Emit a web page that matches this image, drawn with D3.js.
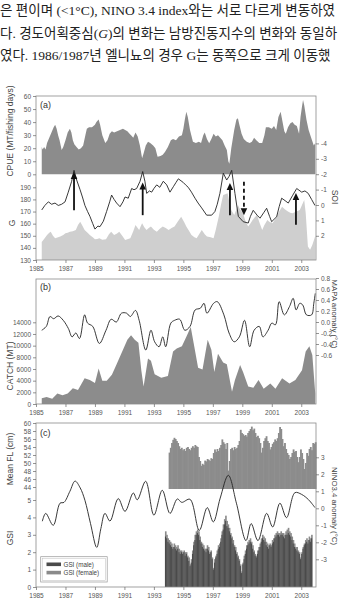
<!DOCTYPE html>
<html><head><meta charset="utf-8">
<script src="https://cdn.jsdelivr.net/npm/d3@7"></script>
<style>
html,body{margin:0;padding:0;background:#fff;overflow:hidden;}
svg{display:block;}
</style></head>
<body>
<svg id="c" width="340" height="608"></svg>
<script>
// ---------- intro text ----------
const introLine1 = "은 편이며 (<1°C), NINO 3.4 index와는 서로 다르게 변동하였";
const introLine2Parts = ["다. 경도어획중심(", "G", ")의 변화는 남방진동지수의 변화와 동일하"];
const introLine3 = "였다. 1986/1987년 엘니뇨의 경우 G는 동쪽으로 크게 이동했";

// ---------- axis ticks ----------
const yearTicks = [1985, 1987, 1989, 1991, 1993, 1995, 1997, 1999, 2001, 2003];
const cpueTicks = [0, 10, 20, 30, 40, 50, 60];
const gTicks = [130, 140, 150, 160, 170, 180, 190];
const soiTicks = [-4, -3, -2, -1, 0, 1, 2];
const catchTicks = [0, 2000, 4000, 6000, 8000, 10000, 12000, 14000];
const mapaTicks = [0.8, 0.6, 0.4, 0.2, 0.0, -0.2, -0.4, -0.6];
const flTicks = [44, 46, 48, 50, 52, 54, 56, 58, 60];
const gsiTicks = [0, 1, 2, 3, 4, 5];
const ninoTicks = [-3, -2, -1, 0, 1, 2, 3];
const legendLabels = ["GSI (male)", "GSI (female)"];

// ---------- panel (a) ----------
const cpueYears = [1985.39,1985.45,1985.55,1985.65,1985.75,1985.9,1986.05,1986.2,1986.3,1986.4,1986.5,1986.6,1986.74,1986.85,1987.0,1987.15,1987.3,1987.4,1987.5,1987.6,1987.75,1987.9,1988.05,1988.2,1988.35,1988.45,1988.6,1988.8,1989.0,1989.1,1989.25,1989.35,1989.5,1989.7,1989.85,1990.0,1990.15,1990.3,1990.5,1990.7,1990.9,1991.05,1991.2,1991.35,1991.45,1991.6,1991.75,1991.9,1992.05,1992.2,1992.3,1992.45,1992.6,1992.75,1992.95,1993.1,1993.25,1993.45,1993.6,1993.75,1993.95,1994.15,1994.3,1994.5,1994.7,1994.9,1995.0,1995.1,1995.2,1995.3,1995.45,1995.65,1995.85,1996.05,1996.2,1996.35,1996.45,1996.6,1996.75,1996.9,1997.05,1997.2,1997.35,1997.5,1997.65,1997.8,1997.95,1998.05,1998.12,1998.25,1998.45,1998.6,1998.7,1998.8,1998.95,1999.1,1999.3,1999.5,1999.65,1999.8,1999.95,2000.15,2000.35,2000.5,2000.6,2000.8,2001.0,2001.15,2001.3,2001.45,2001.6,2001.7,2001.85,2001.95,2002.1,2002.25,2002.4,2002.55,2002.7,2002.85,2002.95,2003.05,2003.12,2003.2,2003.35,2003.5,2003.7,2003.85,2003.95];
const cpueValues = [21,19,21,19,24,28,32,36,38,35,30,26,18.6,21,26,32,35,32,26,23,21,19,20,22,30,35,36,36,38,40,42,38,30,24,26,31,33,32,33,34,35,34,33,31,30,28,32,29,22,12.3,16,22,25,24,22,20,13.5,14,15,17,21,26,27,26,29,30,35,42,48,44,34,25,24,25,24,30,32,27,23.8,27,31,29,30,28,26,22,18.6,10,8,20,34,42,43,38,31,27,25,24,25,28,26,24,24,30,36,36,35,37,34,44,48,42,33,31,36,39,40,38,37,31,44,52,57,53,42,34,27,22,24];

const soiYears = [1985.39,1985.55,1985.75,1985.9,1986.0,1986.15,1986.3,1986.5,1986.65,1986.85,1987.0,1987.15,1987.3,1987.5,1987.7,1987.85,1988.0,1988.15,1988.3,1988.5,1988.65,1988.85,1989.0,1989.15,1989.3,1989.5,1989.75,1989.95,1990.1,1990.3,1990.5,1990.65,1990.85,1991.05,1991.25,1991.4,1991.6,1991.75,1991.9,1992.0,1992.1,1992.2,1992.35,1992.5,1992.65,1992.8,1993.0,1993.2,1993.4,1993.6,1993.8,1994.0,1994.2,1994.4,1994.6,1994.85,1995.05,1995.2,1995.4,1995.55,1995.75,1995.9,1996.1,1996.25,1996.45,1996.6,1996.85,1997.05,1997.2,1997.4,1997.55,1997.7,1997.85,1998.0,1998.1,1998.25,1998.45,1998.6,1998.7,1998.85,1999.05,1999.2,1999.4,1999.55,1999.7,1999.85,2000.0,2000.15,2000.35,2000.5,2000.7,2000.85,2001.05,2001.25,2001.5,2001.7,2001.9,2002.1,2002.25,2002.4,2002.6,2002.9,2003.05,2003.2,2003.3,2003.45,2003.6,2003.75,2003.9,2003.95];
const soiValues = [2.4,2.2,1.95,1.8,1.73,2.0,2.16,2.1,2.05,1.95,1.84,1.8,1.73,1.7,1.62,1.3,1.08,1.35,1.62,1.8,1.95,2.1,2.23,2.2,2.16,2.25,2.23,1.9,1.73,1.95,1.85,1.73,2.0,2.27,2.2,2.16,1.7,1.3,1.5,1.62,1.4,1.19,1.45,1.62,1.5,1.4,1.6,1.73,1.55,1.4,1.5,1.62,1.5,1.4,1.1,0.76,1.1,1.4,1.7,1.95,2.1,2.16,1.85,1.62,1.9,2.05,2.1,2.16,1.6,0.76,0.0,-0.65,-0.7,-0.76,-0.3,0.32,0.65,0.3,0.0,0.3,0.54,1.0,1.4,1.2,0.97,0.8,0.65,1.1,1.62,1.3,0.97,1.1,1.19,0.9,0.43,0.11,0.3,0.43,0.5,0.54,0.45,0.32,0.0,-0.32,0.5,2.7,2.9,2.6,2.16,2.0];

const gYears = [1985.39,1985.6,1985.84,1986.06,1986.29,1986.51,1986.74,1986.97,1987.19,1987.42,1987.58,1987.76,1987.99,1988.15,1988.32,1988.5,1988.66,1988.85,1989.0,1989.2,1989.34,1989.57,1989.79,1990.0,1990.13,1990.3,1990.47,1990.7,1990.9,1991.04,1991.26,1991.49,1991.65,1991.83,1992.06,1992.24,1992.39,1992.51,1992.7,1992.85,1993.0,1993.19,1993.4,1993.64,1993.87,1994.09,1994.32,1994.5,1994.66,1994.99,1995.15,1995.33,1995.55,1995.79,1996.0,1996.24,1996.58,1996.92,1997.14,1997.3,1997.48,1997.71,1997.94,1998.1,1998.28,1998.5,1998.73,1999.06,1999.4,1999.55,1999.74,2000.0,2000.2,2000.45,2000.65,2000.85,2000.99,2001.33,2001.5,2001.67,2001.9,2002.12,2002.4,2002.69,2003.03,2003.25,2003.47,2003.7,2003.93];
const gValues = [171.3,175,178,176,177,175,176,178,186,195,204,196,188,182,175,170,166,160,155.5,158,157.5,162,170,178,183.6,180,177,174,178,182,181,189,188,189,195,203,195,185,187,186,189,192,190,195,192,186,190.5,194,197,194,192,190,186,181,177,173,167,167,170,176,185,201.6,196,199,204,185,166,161.6,160.5,166,171,167,164.5,169,172.7,166,161.6,165.7,174,181,179,177,183,189,186,187,185,180,175];

const arrowYears = [1987.58, 1992.24, 1998.16, 2002.64];
const arrowFromG = [171, 167, 167, 159];
const arrowToG = [202.6, 194, 193.5, 185.3];
const dashArrowYear = 1999.11;
const dashArrowFromG = 194.6;
const dashArrowToG = 167;

// ---------- panel (b) ----------
const catchYears = [1985.39,1985.72,1986.1,1986.45,1986.8,1987.15,1987.5,1987.85,1988.3,1988.65,1989.0,1989.25,1989.5,1989.8,1990.15,1990.5,1990.85,1991.2,1991.45,1991.7,1991.95,1992.15,1992.3,1992.6,1992.8,1993.05,1993.5,1993.95,1994.3,1994.55,1994.9,1995.25,1995.5,1995.7,1996.0,1996.3,1996.65,1996.9,1997.1,1997.35,1997.7,1997.95,1998.3,1998.5,1998.85,1999.05,1999.4,1999.75,2000.1,2000.45,2000.9,2001.25,2001.7,2002.2,2002.6,2003.05,2003.3,2003.55,2003.75,2003.95];
const catchValues = [1000,1200,900,1800,1500,1800,2700,2400,4400,4100,3600,6100,4000,4000,5000,7000,9000,11000,11800,11000,10500,5700,3000,7800,7400,5100,4500,4800,9000,9500,9900,11800,13200,10400,6200,5900,11000,9300,5500,8600,7100,6800,2100,4100,6700,5500,3000,2800,4100,2600,3500,2600,4400,3500,4100,5800,9000,9900,8400,1800];

const mapaYears = [1985.39,1985.7,1985.95,1986.2,1986.5,1986.85,1987.2,1987.45,1987.7,1987.95,1988.3,1988.5,1988.85,1989.3,1989.75,1990.1,1990.45,1990.8,1991.15,1991.4,1991.75,1992.0,1992.45,1992.8,1993.05,1993.35,1993.6,1993.8,1994.15,1994.4,1994.75,1995.1,1995.45,1995.8,1996.15,1996.4,1996.6,1997.05,1997.3,1997.75,1998.1,1998.45,1998.8,1999.15,1999.5,1999.8,2000.15,2000.4,2000.75,2001.0,2001.25,2001.5,2001.85,2002.2,2002.45,2002.65,2002.9,2003.1,2003.35,2003.7,2003.85,2003.95];
const mapaValues = [-0.15,-0.08,0.1,0.06,0.11,0.03,-0.12,-0.27,-0.2,-0.3,0.13,-0.02,-0.08,-0.39,-0.15,0.05,0,0.16,0.16,0.1,0.21,0.03,-0.51,-0.15,-0.36,-0.45,-0.27,-0.45,-0.02,0.03,0.05,-0.15,-0.08,0.22,0.25,0.34,0.16,0.34,0.37,0.13,-0.2,-0.36,-0.27,0.03,-0.45,-0.15,-0.08,-0.27,-0.15,-0.02,-0.05,0.37,0.13,0.28,0.43,0.22,0.34,0.31,0.13,0.13,0.34,0.52];

// ---------- panel (c) ----------
const flStart = 1994.0; // monthly, Jan 1994 - Dec 2003
const flValues = [52.6,53.8,55,55.8,56.3,56,55.5,55,54.2,53.5,53.8,53.2,
53.5,53,53.8,54,53.5,53.2,53.8,54.2,53.8,54.5,54.2,54,
51.5,50.5,49.3,49.8,49.5,50.6,50.4,51,50.8,50.5,51.2,51,
52.5,53.4,52.8,53.5,53,53.8,54.5,55.9,55.2,54.8,53.5,55,
48.1,50.5,53.5,53.8,53.2,54,53.5,53.8,54.5,55.5,58.3,57.5,
57.2,56.8,57,56.6,57.5,58,58.5,59.1,58.2,58.6,57.5,56.5,
56.8,56.2,55,52.6,53.8,55.5,56.2,56.7,55.5,55,53.4,54,
54.8,55.2,55.9,55.5,56.2,57.5,59,58.5,56,54.2,55,53.5,
52.5,52,51,51.5,52.5,53.4,52.8,53,51.5,50.2,51.5,53.4,
52.5,51,48.5,50,52.5,51.8,53.5,54,53.2,55,54.8,55.2];

const gsiStart = 1993.75; // monthly, Oct 1993 - Sep 2003
const gsiMale = [2.9,2.8,2.6,
2.5,2.4,2.3,2.2,2.3,2.2,2.1,2.2,2.0,1.9,2.0,1.9,
2.0,1.8,1.9,1.7,1.5,1.2,1.4,1.9,2.4,2.7,3.0,3.1,
3.0,2.7,2.5,2.3,2.2,2.1,2.0,2.2,2.1,1.9,2.0,1.6,
1.0,1.4,1.7,1.9,2.2,2.3,2.6,3.0,3.3,3.6,3.8,3.5,
3.4,3.2,3.0,2.8,2.5,2.3,2.1,1.9,1.7,1.5,1.2,0.8,
1.3,1.6,1.9,2.2,2.4,2.5,2.6,2.5,2.2,2.0,1.8,1.7,
1.9,2.1,2.3,2.6,2.8,2.7,2.6,2.4,2.3,2.2,2.4,2.3,
2.5,2.6,2.8,2.9,3.0,3.0,2.9,3.0,3.0,2.9,2.8,3.0,
3.0,3.1,3.0,2.9,2.7,2.5,2.3,2.2,2.1,2.0,1.9,1.6,
1.9,2.2,2.4,2.5,2.6,2.5,2.7,2.6,2.8];
const gsiFemale = [3.2,3.0,2.8,
2.7,2.6,2.5,2.3,2.5,2.4,2.3,2.4,2.2,2.1,2.1,2.0,
2.1,2.0,2.0,1.8,1.7,1.3,1.6,2.1,2.6,3.0,3.2,3.3,
3.2,2.9,2.6,2.5,2.4,2.2,2.2,2.4,2.3,2.0,2.1,1.7,
1.1,1.6,1.8,2.1,2.4,2.5,2.8,3.2,3.6,3.9,4.1,3.8,
3.6,3.4,3.1,2.9,2.7,2.4,2.3,2.0,1.8,1.6,1.3,0.9,
1.4,1.8,2.1,2.4,2.6,2.7,2.8,2.6,2.4,2.1,1.9,1.8,
2.1,2.3,2.5,2.8,3.0,2.9,2.8,2.6,2.5,2.4,2.5,2.4,
2.7,2.8,3.0,3.1,3.2,3.1,3.1,3.2,3.1,3.1,3.0,3.2,
3.3,3.4,3.2,3.1,2.9,2.7,2.5,2.3,2.3,2.1,2.0,1.7,
2.0,2.3,2.5,2.7,2.8,2.7,2.9,2.8,3.0];

const ninoYears = [1985.43,1985.66,1986.17,1986.63,1986.9,1987.3,1987.65,1988.0,1988.32,1988.7,1989.12,1989.4,1989.68,1990.02,1990.58,1991.04,1991.6,1991.87,1992.44,1993.0,1993.57,1994.09,1994.59,1994.89,1995.45,1996.08,1996.62,1997.03,1997.5,1998.05,1998.6,1999.25,1999.6,2000.06,2000.65,2001.06,2001.55,2002.0,2002.57,2003.02,2003.5,2003.93];
const ninoValues = [-0.76,-0.3,-1.0,0.3,0.35,1.0,1.6,1.2,0.47,-0.9,-2.3,-1.2,-0.3,-0.75,0.57,-0.18,0.9,0.5,1.59,-0.4,1.06,-0.3,0.55,0.35,0.53,-1.3,0.04,-0.8,0.6,1.94,0.3,-1.9,-0.9,-1.9,-0.3,-1.1,0.3,-0.55,0.92,0.82,0.5,0.04];

// ================= drawing =================
const svg = d3.select("#c");
const SANS = "'Liberation Sans', Arial, sans-serif";
const X0 = 36, X1 = 316;
const x = d3.scaleLinear().domain([1985, 2004]).range([X0, X1]);

// intro text
const tg = svg.append("g")
  .attr("font-family", "'Liberation Serif','Noto Sans CJK KR',serif")
  .attr("font-size", 13.5).attr("fill", "#222");
tg.append("text").attr("x", 0).attr("y", 15).text(introLine1);
const t2 = tg.append("text").attr("x", 0).attr("y", 38);
introLine2Parts.forEach((p, i) => t2.append("tspan").attr("font-style", i === 1 ? "italic" : null).text(p));
tg.append("text").attr("x", 0).attr("y", 60).text(introLine3);

function styleAxis(g) {
  g.select(".domain").remove();
  g.selectAll(".tick line").attr("stroke", "#666").attr("stroke-width", 0.7);
  g.selectAll(".tick text").attr("fill", "#555").attr("font-size", 6.5).attr("font-family", SANS);
}
const fmtSigned = d => (d < 0 ? "-" : "") + Math.abs(d);
const fmt1 = d => (d < 0 ? "-" : "") + Math.abs(d).toFixed(1);

function box(top, bottom) {
  svg.append("rect").attr("x", X0).attr("y", top).attr("width", X1 - X0).attr("height", bottom - top)
    .attr("fill", "none").attr("stroke", "#8a8a8a").attr("stroke-width", 0.8);
}
function bottomAxis(bottom) {
  svg.append("g").attr("transform", `translate(0,${bottom})`)
    .call(d3.axisBottom(x).tickValues(yearTicks).tickSize(3).tickPadding(3).tickFormat(d3.format("d")))
    .call(styleAxis);
}
function leftAxis(scale, ticks, fmt) {
  svg.append("g").attr("transform", `translate(${X0},0)`)
    .call(d3.axisLeft(scale).tickValues(ticks).tickSize(3).tickPadding(2).tickFormat(fmt || d3.format("d")))
    .call(styleAxis);
}
function rightAxis(scale, ticks, fmt) {
  svg.append("g").attr("transform", `translate(${X1},0)`)
    .call(d3.axisRight(scale).tickValues(ticks).tickSize(3).tickPadding(2).tickFormat(fmt))
    .call(styleAxis);
}
function leftTitle(txt, cx, cy) {
  svg.append("text").attr("transform", `translate(${cx},${cy}) rotate(-90)`)
    .attr("text-anchor", "middle").attr("font-family", SANS).attr("font-size", 8.5).attr("fill", "#444").text(txt);
}
function rightTitle(txt, cx, cy, fs) {
  svg.append("text").attr("transform", `translate(${cx},${cy}) rotate(90)`)
    .attr("text-anchor", "middle").attr("font-family", SANS).attr("font-size", fs || 8.5).attr("fill", "#444").text(txt);
}
function panelLabel(txt, y) {
  svg.append("text").attr("x", 40).attr("y", y).attr("font-family", SANS).attr("font-size", 9).attr("fill", "#333").text(txt);
}

// ----- panel (a) -----
const A_TOP = 96, A_BOT = 260;
const yCPUE = d3.scaleLinear().domain([0, 60]).range([174.3, A_TOP]);
const yG = d3.scaleLinear().domain([130, 190]).range([A_BOT, 187.3]);
const ySOI = d3.scaleLinear().domain([-4, 2]).range([143.4, 235.8]);

const soiData = soiYears.map((yr, i) => [yr, soiValues[i]]);
svg.append("path").datum(soiData)
  .attr("d", d3.area().x(d => x(d[0])).y0(A_BOT).y1(d => ySOI(d[1])))
  .attr("fill", "#cfcfcf");
const cpueData = cpueYears.map((yr, i) => [yr, cpueValues[i]]);
svg.append("path").datum(cpueData)
  .attr("d", d3.area().x(d => x(d[0])).y0(yCPUE(0)).y1(d => yCPUE(d[1])))
  .attr("fill", "#8c8c8c");
const gData = gYears.map((yr, i) => [yr, gValues[i]]);
svg.append("path").datum(gData)
  .attr("d", d3.line().x(d => x(d[0])).y(d => yG(d[1])))
  .attr("fill", "none").attr("stroke", "#222").attr("stroke-width", 0.9);

function arrow(xx, yFrom, yTo, dashed) {
  const dir = yTo < yFrom ? -1 : 1;
  const head = 7;
  svg.append("line").attr("x1", xx).attr("x2", xx).attr("y1", yFrom).attr("y2", yTo - dir * head + dir)
    .attr("stroke", "#111").attr("stroke-width", 1.8).attr("stroke-dasharray", dashed ? "4,3" : null);
  svg.append("path").attr("d", `M${xx},${yTo} L${xx - 3.3},${yTo - dir * head} L${xx + 3.3},${yTo - dir * head} Z`).attr("fill", "#111");
}
arrowYears.forEach((yr, i) => arrow(x(yr), yG(arrowFromG[i]), yG(arrowToG[i]), false));
arrow(x(dashArrowYear), yG(dashArrowFromG), yG(dashArrowToG), true);

box(A_TOP, A_BOT);
leftAxis(yCPUE, cpueTicks);
leftAxis(yG, gTicks);
rightAxis(ySOI, soiTicks, fmtSigned);
bottomAxis(A_BOT);
panelLabel("(a)", 107.5);
leftTitle("CPUE (MT/fishing days)", 13, 131);
leftTitle("G", 15, 223);
rightTitle("SOI", 332, 197);

// ----- panel (b) -----
const B_TOP = 279, B_BOT = 404;
const yCatch = d3.scaleLinear().domain([0, 14000]).range([B_BOT, 322.3]);
const yMAPA = d3.scaleLinear().domain([-0.6, 0.8]).range([355, 278]);
const catchData = catchYears.map((yr, i) => [yr, catchValues[i]]);
svg.append("path").datum(catchData)
  .attr("d", d3.area().x(d => x(d[0])).y0(B_BOT).y1(d => yCatch(d[1])))
  .attr("fill", "#8c8c8c");
const mapaData = mapaYears.map((yr, i) => [yr, mapaValues[i]]);
svg.append("path").datum(mapaData)
  .attr("d", d3.line().x(d => x(d[0])).y(d => yMAPA(d[1])).curve(d3.curveCatmullRom.alpha(0.5)))
  .attr("fill", "none").attr("stroke", "#222").attr("stroke-width", 0.9);
box(B_TOP, B_BOT);
leftAxis(yCatch, catchTicks);
rightAxis(yMAPA, mapaTicks, fmt1);
bottomAxis(B_BOT);
panelLabel("(b)", 290);
leftTitle("CATCH (MT)", 13, 366);
rightTitle("MAPA anomaly (°C)", 332, 314, 7.8);

// ----- panel (c) -----
const C_TOP = 423, C_BOT = 587;
const yFL = d3.scaleLinear().domain([44, 60]).range([487, C_TOP]);
const FL_BASE = 489;
const yGSI = d3.scaleLinear().domain([0, 5]).range([C_BOT, 500]);
const yNINO = d3.scaleLinear().domain([-3, 3]).range([559.3, 457.3]);
const month = x(1985 + 1 / 12) - x(1985);

svg.append("g").selectAll("rect").data(flValues).join("rect")
  .attr("x", (d, i) => x(flStart + i / 12)).attr("width", month + 0.6)
  .attr("y", d => yFL(d)).attr("height", d => FL_BASE - yFL(d)).attr("fill", "#8c8c8c");

svg.append("g").selectAll("rect").data(gsiFemale).join("rect")
  .attr("x", (d, i) => x(gsiStart + i / 12)).attr("width", month + 0.4)
  .attr("y", d => yGSI(d)).attr("height", d => C_BOT - yGSI(d)).attr("fill", "#8a8a8a");
svg.append("g").selectAll("rect").data(gsiMale).join("rect")
  .attr("x", (d, i) => x(gsiStart + i / 12)).attr("width", month * 0.85)
  .attr("y", d => yGSI(d)).attr("height", d => C_BOT - yGSI(d)).attr("fill", "#4a4a4a");

const ninoData = ninoYears.map((yr, i) => [yr, ninoValues[i]]);
svg.append("path").datum(ninoData)
  .attr("d", d3.line().x(d => x(d[0])).y(d => yNINO(d[1])).curve(d3.curveCatmullRom.alpha(0.5)))
  .attr("fill", "none").attr("stroke", "#222").attr("stroke-width", 0.9);

box(C_TOP, C_BOT);
leftAxis(yFL, flTicks);
leftAxis(yGSI, gsiTicks);
rightAxis(yNINO, ninoTicks, fmtSigned);
bottomAxis(C_BOT);
panelLabel("(c)", 436);
leftTitle("Mean FL (cm)", 13, 459);
leftTitle("GSI", 13, 538);
rightTitle("NINO3.4 anomaly (°C)", 332, 506, 7.8);

// legend
const lg = svg.append("g");
lg.append("rect").attr("x", 40.7).attr("y", 556.7).attr("width", 66.5).attr("height", 25.3)
  .attr("fill", "#fff").attr("stroke", "#999").attr("stroke-width", 0.7);
lg.append("rect").attr("x", 42.2).attr("y", 558.2).attr("width", 63.5).attr("height", 22.3)
  .attr("fill", "none").attr("stroke", "#bbb").attr("stroke-width", 0.5);
const legendColors = ["#4a4a4a", "#8a8a8a"];
legendLabels.forEach((lab, i) => {
  const yy = 562.5 + i * 8.3;
  lg.append("rect").attr("x", 46.5).attr("y", yy).attr("width", 14.5).attr("height", 3.6).attr("fill", legendColors[i]);
  lg.append("text").attr("x", 63.5).attr("y", yy + 4).attr("font-family", SANS).attr("font-size", 6.3).attr("fill", "#444").text(lab);
});
</script>
</body></html>
